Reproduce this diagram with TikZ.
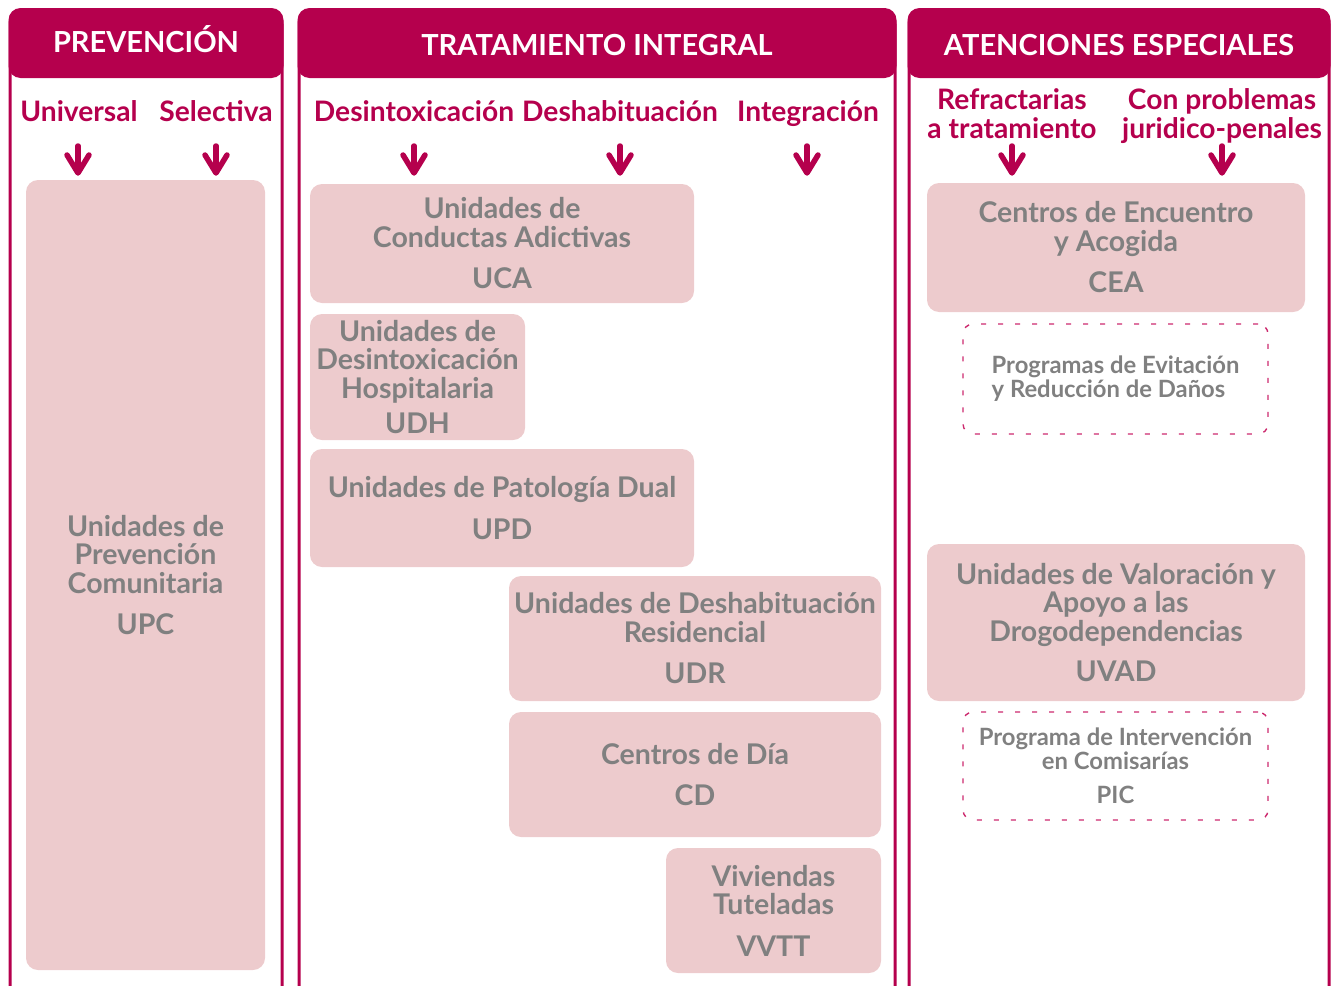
\documentclass[tikz,border=0pt]{standalone}
\usepackage{fontspec}
\setmainfont{Lato}
\definecolor{mag}{HTML}{B5004D}
\definecolor{boxfill}{HTML}{EDCBCD}
\definecolor{txtgray}{HTML}{808080}
\definecolor{dashc}{HTML}{CC2A6E}
\tikzset{
  panel/.style={draw=mag, line width=3pt, rounded corners=14pt},
  header/.style={fill=mag, rounded corners=12pt},
  htext/.style={text=white, font=\bfseries\fontsize{29}{30}\selectfont, inner sep=0pt, anchor=base},
  sub/.style={text=mag, font=\bfseries\fontsize{28.2}{28.5}\selectfont, align=center, inner sep=0pt, anchor=base},
  ubox/.style={fill=boxfill, rounded corners=12pt, text=txtgray, font=\bfseries\fontsize{28.5}{28.5}\selectfont, align=center, inner sep=0pt},
  dbox/.style={draw=dashc, line width=1.4pt, dash pattern=on 5pt off 12pt, rounded corners=10pt, text=txtgray, font=\bfseries\fontsize{23.8}{24}\selectfont, inner sep=0pt},
  chev/.style={draw=mag, line width=5.5pt, line cap=round, line join=round},
}
\usetikzlibrary{calc}
\newcommand{\chevron}[2]{%
  \coordinate (#1) at (#2,146);
  \draw[chev] (#1) -- ++(0,26);
  \draw[chev] ($(#1)+(-11,9)$) -- ($(#1)+(0,27)$) -- ($(#1)+(11,9)$);
}
\begin{document}
\begin{tikzpicture}[x=1pt,y=-1pt]
\useasboundingbox (0,0) rectangle (1332,985);
\clip (0,0) rectangle (1332,985);
% panels
\draw[panel] (10,10) rectangle (282,1010);
\draw[panel] (299,10) rectangle (895,1010);
\draw[panel] (909,10) rectangle (1329,1010);
\fill[header] (8.5,8) rectangle (283.5,78);
\fill[header] (297.5,8) rectangle (896.5,78);
\fill[header] (907.5,8) rectangle (1330.5,78);
\node[htext] (h1) at (146,52) {PREVENCIÓN};
\node[htext] (h2) at (597,55) {TRATAMIENTO INTEGRAL};
\node[htext] (h3) at (1119,55) {ATENCIONES ESPECIALES};
% sub headers
\node[sub] (s1) at (79,121) {Universal};
\node[sub] (s2) at (216,121) {Selectiva};
\node[sub] (s3) at (414,121) {Desintoxicación};
\node[sub] (s4) at (620,121) {Deshabituación};
\node[sub] (s5) at (808,121) {Integración};
\node[sub] (s6) at (1012,109) {Refractarias};
\node[sub] (s6b) at (1012,138) {a tratamiento};
\node[sub] (s7) at (1222,109) {Con problemas};
\node[sub] (s7b) at (1222,138) {juridico-penales};
% arrows
\chevron{a1}{78}
\chevron{a2}{216}
\chevron{a3}{414}
\chevron{a4}{620}
\chevron{a5}{807}
\chevron{a6}{1012}
\chevron{a7}{1222}
% boxes
\node[ubox, minimum width=239pt, minimum height=790pt] (upc) at (145.5,575) {Unidades de\\Prevención\\Comunitaria\\[13pt]UPC};
\node[ubox, minimum width=384pt, minimum height=119pt] (uca) at (502,243.5) {Unidades de\\Conductas Adictivas\\[13pt]UCA};
\node[ubox, minimum width=215pt, minimum height=126pt] (udh) at (417.5,377) {Unidades de\\Desintoxicación\\Hospitalaria\\[7pt]UDH};
\node[ubox, minimum width=384pt, minimum height=118pt] (upd) at (502,508) {Unidades de Patología Dual\\[13pt]UPD};
\node[ubox, minimum width=372pt, minimum height=125pt] (udr) at (695,638.5) {Unidades de Deshabituación\\Residencial\\[13pt]UDR};
\node[ubox, minimum width=372pt, minimum height=125pt] (cd) at (695,774.5) {Centros de Día\\[13pt]CD};
\node[ubox, minimum width=215pt, minimum height=125pt] (vvtt) at (773.5,910.5) {Viviendas\\Tuteladas\\[13pt]VVTT};
\node[ubox, minimum width=378pt, minimum height=129pt] (cea) at (1116,247.5) {Centros de Encuentro\\y Acogida\\[13pt]CEA};
\node[ubox, minimum width=378pt, minimum height=157pt] (uvad) at (1116,622.5) {Unidades de Valoración y\\Apoyo a las\\Drogodependencias\\[12pt]UVAD};
\node[dbox, minimum width=305pt, minimum height=110pt, align=left] (pred) at (1115.5,379) {Programas de Evitación\\y Reducción de Daños};
\node[dbox, minimum width=305pt, minimum height=108pt, align=center] (pic) at (1115.5,766) {Programa de Intervención\\en Comisarías\\[10pt]PIC};
\end{tikzpicture}
\end{document}
